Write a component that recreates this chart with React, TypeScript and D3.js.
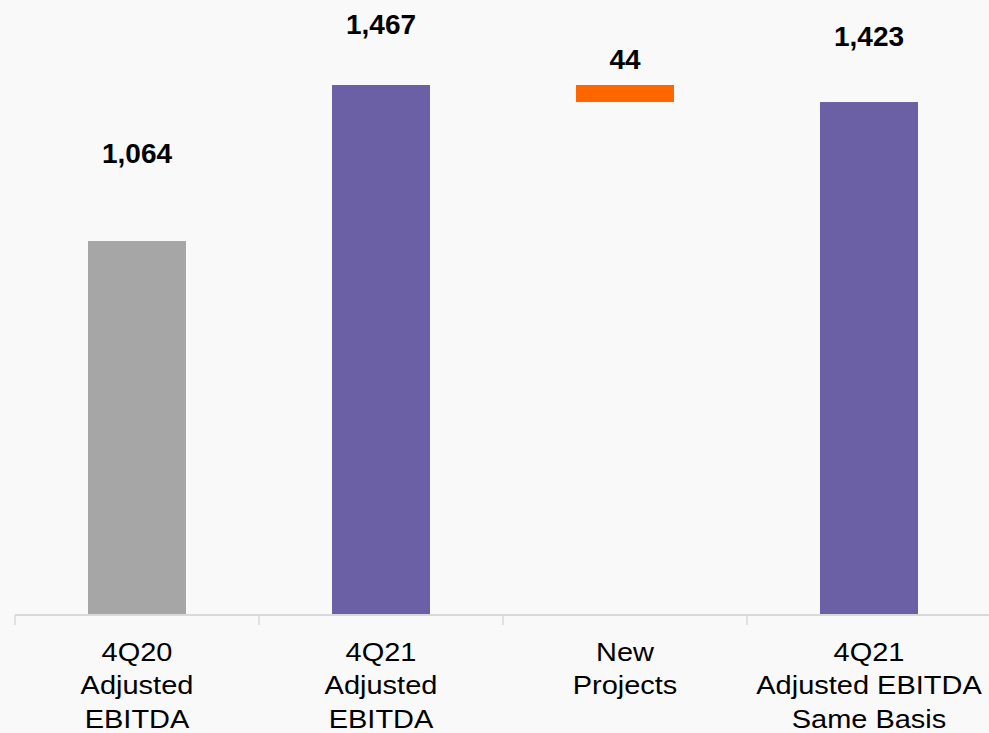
import React from "react";
import * as d3 from "d3";

const categories = [
  ["4Q20", "Adjusted", "EBITDA"],
  ["4Q21", "Adjusted", "EBITDA"],
  ["New", "Projects"],
  ["4Q21", "Adjusted EBITDA", "Same Basis"],
];
const barStart = [0, 0, 1423, 0];
const barEnd = [1064, 1467, 1467, 1423];
const valueLabels = ["1,064", "1,467", "44", "1,423"];
const barColors = ["#a6a6a6", "#6b5fa6", "#ff6600", "#6b5fa6"];
const labelLift = [78, 51, 16, 56];

const W = 989;
const H = 733;

export default function App() {
  const x = d3
    .scaleBand<number>()
    .domain(d3.range(categories.length))
    .range([15, 991])
    .paddingInner(0)
    .paddingOuter(0);
  const y = d3.scaleLinear().domain([98, 1467]).range([615, 85]);
  const bw = 98;
  const baseY = 615;
  const ticks = d3.range(categories.length + 1).map((i) => 15 + i * x.step());

  return (
    <svg
      width={W}
      height={H}
      style={{ position: "absolute", left: 0, top: 0, display: "block" }}
      fontFamily="Liberation Sans, Arial, sans-serif"
    >
      <rect x={0} y={0} width={W} height={H} fill="#f9f9f9" />
      {barEnd.map((v, i) => {
        const cx = (x(i) as number) + x.bandwidth() / 2;
        const top = y(v);
        const bottom = barStart[i] === 0 ? baseY : y(barStart[i]);
        return (
          <g key={i}>
            <rect x={cx - bw / 2} y={top} width={bw} height={bottom - top} fill={barColors[i]} />
            <text
              x={cx}
              y={top - labelLift[i]}
              textAnchor="middle"
              fontWeight="bold"
              fontSize={28}
              fill="#000"
            >
              {valueLabels[i]}
            </text>
          </g>
        );
      })}
      <line x1={15} x2={W} y1={baseY} y2={baseY} stroke="#d9d9d9" strokeWidth={2} />
      {ticks.map((t, i) => (
        <line key={i} x1={t} x2={t} y1={baseY} y2={baseY + 10} stroke="#d9d9d9" strokeWidth={1.5} />
      ))}
      {categories.map((lines, i) => {
        const cx = (x(i) as number) + x.bandwidth() / 2;
        return (
          <g key={i} transform={`translate(${cx},0) scale(1.115,1)`}>
            {lines.map((ln, j) => (
              <text key={j} x={0} y={661 + j * 33.5} textAnchor="middle" fontSize={26} fill="#000">
                {ln}
              </text>
            ))}
          </g>
        );
      })}
    </svg>
  );
}
